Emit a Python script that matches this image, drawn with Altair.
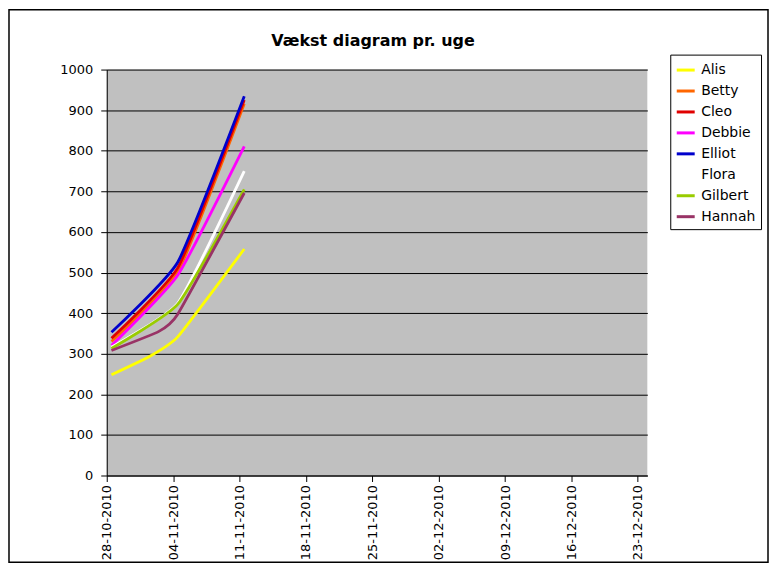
import altair as alt
import pandas as pd

# ---- data ----
title_text = "Vækst diagram pr. uge"
names = ["Alis", "Betty", "Cleo", "Debbie", "Elliot", "Flora", "Gilbert", "Hannah"]
colors = ["#FFFF00", "#FF6600", "#E00000", "#FF00FF", "#0000CC", "#FFFFFF", "#99CC00", "#993366"]

alis_dates = ["2010-10-28", "2010-11-01", "2010-11-04", "2010-11-11"]
alis_vals = [248, 293, 342, 558]
betty_dates = ["2010-10-28", "2010-11-04", "2010-11-11"]
betty_vals = [330, 502, 916]
cleo_dates = ["2010-10-28", "2010-11-04", "2010-11-11"]
cleo_vals = [338, 512, 925]
debbie_dates = ["2010-10-28", "2010-11-04", "2010-11-11"]
debbie_vals = [320, 494, 811]
elliot_dates = ["2010-10-28", "2010-11-04", "2010-11-11"]
elliot_vals = [353, 526, 934]
flora_dates = ["2010-10-28", "2010-11-04", "2010-11-11"]
flora_vals = [316, 425, 750]
gilbert_dates = ["2010-10-28", "2010-11-04", "2010-11-11"]
gilbert_vals = [313, 422, 705]
hannah_dates = ["2010-10-28", "2010-11-02", "2010-11-04", "2010-11-11"]
hannah_vals = [308, 355, 398, 696]

tick_dates = ["2010-10-28", "2010-11-04", "2010-11-11", "2010-11-18", "2010-11-25",
              "2010-12-02", "2010-12-09", "2010-12-16", "2010-12-23"]
y_ticks = [0, 100, 200, 300, 400, 500, 600, 700, 800, 900, 1000]

series = [
    ("Alis", alis_dates, alis_vals),
    ("Betty", betty_dates, betty_vals),
    ("Cleo", cleo_dates, cleo_vals),
    ("Debbie", debbie_dates, debbie_vals),
    ("Elliot", elliot_dates, elliot_vals),
    ("Flora", flora_dates, flora_vals),
    ("Gilbert", gilbert_dates, gilbert_vals),
    ("Hannah", hannah_dates, hannah_vals),
]

rows = []
for order, (name, dates, vals) in enumerate(series):
    for d, v in zip(dates, vals):
        # Excel date axis: each day is a slot, points sit in the slot centre
        rows.append({"name": name, "date": d + "T12:00:00", "value": v, "order": order})
df = pd.DataFrame(rows)


def dt(s):
    y, m, d = s.split("-")
    return alt.DateTime(year=int(y), month=int(m), date=int(d))


FONT = "DejaVu Sans"

lines = alt.Chart(df).mark_line(strokeWidth=2.8, interpolate="cardinal", tension=0.55).encode(
    x=alt.X(
        "date:T",
        scale=alt.Scale(domain=[dt("2010-10-28"), dt("2010-12-24")]),
        axis=alt.Axis(
            values=[dt(s) for s in tick_dates],
            format="%d-%m-%Y",
            labelAngle=270,
            labelFont=FONT,
            labelFontSize=13,
            labelColor="black",
            labelPadding=3,
            tickColor="black",
            tickSize=6,
            domainColor="black",
            grid=False,
            title=None,
        ),
    ),
    y=alt.Y(
        "value:Q",
        scale=alt.Scale(domain=[0, 1000], nice=False),
        axis=alt.Axis(
            values=y_ticks,
            format="d",
            labelFont=FONT,
            labelFontSize=13,
            labelColor="black",
            labelPadding=8,
            tickColor="black",
            tickSize=6,
            domainColor="black",
            grid=True,
            gridColor="black",
            gridOpacity=1,
            gridWidth=1,
            title=None,
        ),
    ),
    color=alt.Color(
        "name:N",
        scale=alt.Scale(domain=names, range=colors),
        sort=names,
        legend=alt.Legend(
            title=None,
            orient="none",
            legendX=565,
            legendY=-15,
            symbolType="stroke",
            symbolSize=324,
            symbolStrokeWidth=3,
            labelFont=FONT,
            labelFontSize=14,
            labelColor="black",
            labelOffset=5,
            rowPadding=3,
            padding=5,
            strokeColor="black",
            fillColor="white",
        ),
    ),
    order=alt.Order("order:Q"),
)

one_row = pd.DataFrame({"k": [0]})
frame = alt.Chart(one_row).mark_rect(fill="transparent", stroke="black", strokeWidth=1.5).encode(
    x=alt.value(-98), x2=alt.value(663), y=alt.value(-60), y2=alt.value(494)
)
title = alt.Chart(one_row).mark_text(
    font=FONT, fontSize=16, fontWeight="bold", color="black", align="center", baseline="alphabetic"
).encode(x=alt.value(267), y=alt.value(-24), text=alt.value(title_text))

chart = alt.layer(frame, lines, title).properties(
    width=542,
    height=407,
    autosize=alt.AutoSizeParams(type="none"),
    padding={"left": 99, "top": 61, "right": 122, "bottom": 90},
    background="white",
).configure_view(fill="#C0C0C0", strokeWidth=0)

chart.save("out.html", embed_options={"renderer": "svg", "actions": False})
